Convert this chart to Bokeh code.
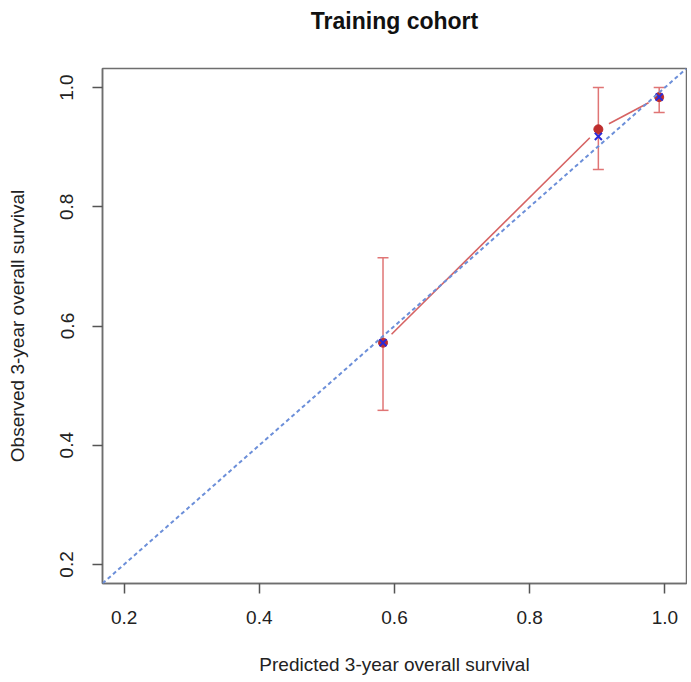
import math
from bokeh.plotting import figure
from bokeh.models import (Range1d, Slope, Whisker, TeeHead, ColumnDataSource,
                          FixedTicker, PrintfTickFormatter)
from bokeh.embed import file_html
from bokeh.resources import INLINE

# ---- data ----
predicted = [0.583, 0.9016, 0.9916]          # mean predicted 3-year OS per group
observed = [0.572, 0.930, 0.984]             # observed (Kaplan-Meier) 3-year OS
obs_lower = [0.4585, 0.8625, 0.958]          # 95% CI lower
obs_upper = [0.7145, 1.000, 1.000]           # 95% CI upper
bias_corrected = [0.572, 0.918, 0.984]       # bias-corrected (blue x)
ticks = [0.2, 0.4, 0.6, 0.8, 1.0]
title_text = "Training cohort"

XMIN, XMAX = 0.168, 1.032
YMIN, YMAX = 0.168, 1.032
FW, FH = 584, 515

FONT = "Liberation Sans"

p = figure(
    output_backend="svg", toolbar_location=None,
    frame_width=FW, frame_height=FH,
    min_border_left=102, min_border_top=68, min_border_right=1, min_border_bottom=96,
    x_range=Range1d(XMIN, XMAX), y_range=Range1d(YMIN, YMAX),
    title=title_text + "\n",
)
p.background_fill_color = "white"
p.border_fill_color = "white"
p.grid.visible = False
p.outline_line_color = "#6e6e6e"
p.outline_line_width = 1.5

p.title.align = "center"
p.title.text_font = FONT
p.title.text_font_size = "23px"
p.title.text_font_style = "bold"
p.title.text_color = "#111111"
p.title.text_line_height = 1.2
p.title.standoff = 6

for ax in (p.xaxis[0], p.yaxis[0]):
    ax.ticker = FixedTicker(ticks=ticks)
    ax.formatter = PrintfTickFormatter(format="%.1f")
    ax.minor_tick_line_color = None
    ax.major_tick_in = 0
    ax.major_tick_out = 10
    ax.major_tick_line_color = "#555555"
    ax.major_tick_line_width = 1.5
    ax.axis_line_color = "#6e6e6e"
    ax.axis_line_width = 1.5
    ax.major_label_text_font = FONT
    ax.major_label_text_font_size = "19px"
    ax.major_label_text_color = "#222222"
    ax.axis_label_text_font = FONT
    ax.axis_label_text_font_size = "19px"
    ax.axis_label_text_font_style = "normal"
    ax.axis_label_text_color = "#222222"

p.xaxis[0].axis_label = "Predicted 3-year overall survival"
p.yaxis[0].axis_label = "Observed 3-year overall survival"
p.xaxis[0].major_label_standoff = 17
p.yaxis[0].major_label_standoff = 19
p.xaxis[0].axis_label_standoff = 27
p.yaxis[0].axis_label_standoff = 30
p.yaxis[0].major_label_orientation = "vertical"

# ideal line
p.add_layout(Slope(gradient=1, y_intercept=0, line_color="#6C8FD9",
                   line_width=2, line_dash="4 3"))

# error bars
src = ColumnDataSource(dict(x=predicted, y=observed, lo=obs_lower, hi=obs_upper,
                            bc=bias_corrected))
err_col = "#E07575"
w = Whisker(source=src, base="x", lower="lo", upper="hi", dimension="height",
            line_color=err_col, line_width=1.5,
            upper_head=TeeHead(size=11, line_color=err_col, line_width=1.5),
            lower_head=TeeHead(size=11, line_color=err_col, line_width=1.5))
p.add_layout(w)

# connecting line with gaps around points (R type="b")
sx = FW / (XMAX - XMIN)
sy = FH / (YMAX - YMIN)
gap = 12.0
x0s, y0s, x1s, y1s = [], [], [], []
for i in range(len(predicted) - 1):
    dx = (predicted[i + 1] - predicted[i]) * sx
    dy = (observed[i + 1] - observed[i]) * sy
    L = math.hypot(dx, dy)
    ux, uy = dx / L, dy / L
    x0s.append(predicted[i] + gap * ux / sx)
    y0s.append(observed[i] + gap * uy / sy)
    x1s.append(predicted[i + 1] - gap * ux / sx)
    y1s.append(observed[i + 1] - gap * uy / sy)
p.segment(x0s, y0s, x1s, y1s, line_color="#D66363", line_width=1.6)

# observed points
p.scatter("x", "y", source=src, size=9, color="#BE2E2E")
# bias-corrected marks
p.scatter("x", "bc", source=src, marker="x", size=10, line_color="#2B2BD8", line_width=2)

open("out.html", "w").write(file_html(p, INLINE))
